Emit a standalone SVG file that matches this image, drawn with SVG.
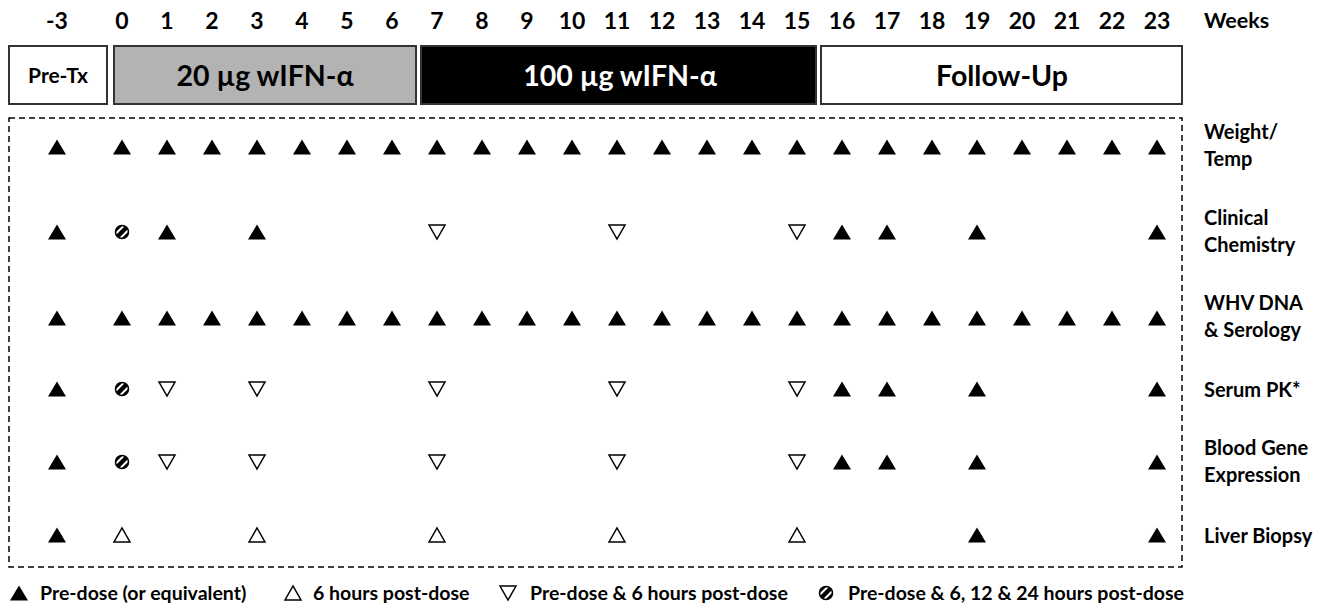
<svg xmlns="http://www.w3.org/2000/svg" xmlns:xlink="http://www.w3.org/1999/xlink" width="1317" height="607" viewBox="0 0 1317 607">
<style>
text{font-family:Lato,"Open Sans","Liberation Sans",sans-serif;font-weight:bold;fill:#000}
.wk{font-size:23px;text-anchor:middle}
.ph{font-size:28.5px;text-anchor:middle}
.lbl{font-size:20px}
.leg{font-size:19.5px}
.box{stroke:#333;stroke-width:2}
</style>
<defs>
<path id="tf" d="M-9,7.5 L9,7.5 L0,-7.5 Z" fill="#000"/>
<path id="tu" d="M-8,7 L8,7 L0,-7 Z" fill="#fff" stroke="#000" stroke-width="1.5"/>
<path id="td" d="M-8,-7 L8,-7 L0,7 Z" fill="#fff" stroke="#000" stroke-width="1.5"/>
<clipPath id="cc"><circle r="6.5"/></clipPath>
<g id="hc">
<circle r="6.5" fill="#000"/>
<g clip-path="url(#cc)" stroke="#fff" stroke-width="2">
<line x1="-9" y1="4.5" x2="4.5" y2="-9"/>
<line x1="-4.5" y1="9" x2="9" y2="-4.5"/>
</g>
<circle r="6.5" fill="none" stroke="#000" stroke-width="1.6"/>
</g>
</defs>
<rect width="1317" height="607" fill="#fff"/>

<g id="weeks">
<text class="wk" x="57" y="29">-3</text>
<text class="wk" x="122" y="29">0</text>
<text class="wk" x="167" y="29">1</text>
<text class="wk" x="212" y="29">2</text>
<text class="wk" x="257" y="29">3</text>
<text class="wk" x="302" y="29">4</text>
<text class="wk" x="347" y="29">5</text>
<text class="wk" x="392" y="29">6</text>
<text class="wk" x="437" y="29">7</text>
<text class="wk" x="482" y="29">8</text>
<text class="wk" x="527" y="29">9</text>
<text class="wk" x="572" y="29">10</text>
<text class="wk" x="617" y="29">11</text>
<text class="wk" x="662" y="29">12</text>
<text class="wk" x="707" y="29">13</text>
<text class="wk" x="752" y="29">14</text>
<text class="wk" x="797" y="29">15</text>
<text class="wk" x="842" y="29">16</text>
<text class="wk" x="887" y="29">17</text>
<text class="wk" x="932" y="29">18</text>
<text class="wk" x="977" y="29">19</text>
<text class="wk" x="1022" y="29">20</text>
<text class="wk" x="1067" y="29">21</text>
<text class="wk" x="1112" y="29">22</text>
<text class="wk" x="1157" y="29">23</text>
<text class="lbl" x="1204" y="28" style="font-size:21.5px">Weeks</text>
</g>

<g id="phase-pretx">
<rect class="box" x="9" y="46" width="98" height="58" fill="#fff"/>
<text class="ph" x="58" y="83" style="font-size:21px">Pre-Tx</text>
</g>
<g id="phase-20">
<rect class="box" x="114" y="46" width="302" height="58" fill="#b3b3b3"/>
<text class="ph" x="265" y="86">20 µg wIFN-α</text>
</g>
<g id="phase-100">
<rect class="box" x="421" y="46" width="395" height="58" fill="#000"/>
<text class="ph" x="620" y="86" style="fill:#fff">100 µg wIFN-α</text>
</g>
<g id="phase-follow">
<rect class="box" x="821" y="46" width="361" height="58" fill="#fff"/>
<text class="ph" x="1002" y="86">Follow-Up</text>
</g>

<g id="frame">
<rect x="9" y="118" width="1173" height="449" fill="none" stroke="#000" stroke-width="1.5" stroke-dasharray="6,4"/>
</g>

<g id="row-weight">
<use xlink:href="#tf" x="57" y="147"/><use xlink:href="#tf" x="122" y="147"/><use xlink:href="#tf" x="167" y="147"/><use xlink:href="#tf" x="212" y="147"/><use xlink:href="#tf" x="257" y="147"/><use xlink:href="#tf" x="302" y="147"/><use xlink:href="#tf" x="347" y="147"/><use xlink:href="#tf" x="392" y="147"/><use xlink:href="#tf" x="437" y="147"/><use xlink:href="#tf" x="482" y="147"/><use xlink:href="#tf" x="527" y="147"/><use xlink:href="#tf" x="572" y="147"/><use xlink:href="#tf" x="617" y="147"/><use xlink:href="#tf" x="662" y="147"/><use xlink:href="#tf" x="707" y="147"/><use xlink:href="#tf" x="752" y="147"/><use xlink:href="#tf" x="797" y="147"/><use xlink:href="#tf" x="842" y="147"/><use xlink:href="#tf" x="887" y="147"/><use xlink:href="#tf" x="932" y="147"/><use xlink:href="#tf" x="977" y="147"/><use xlink:href="#tf" x="1022" y="147"/><use xlink:href="#tf" x="1067" y="147"/><use xlink:href="#tf" x="1112" y="147"/><use xlink:href="#tf" x="1157" y="147"/>
<text class="lbl" x="1204" y="139">Weight/</text>
<text class="lbl" x="1204" y="166">Temp</text>
</g>

<g id="row-clinical">
<use xlink:href="#tf" x="57" y="232"/><use xlink:href="#hc" x="122" y="232"/><use xlink:href="#tf" x="167" y="232"/><use xlink:href="#tf" x="257" y="232"/><use xlink:href="#td" x="437" y="232"/><use xlink:href="#td" x="617" y="232"/><use xlink:href="#td" x="797" y="232"/><use xlink:href="#tf" x="842" y="232"/><use xlink:href="#tf" x="887" y="232"/><use xlink:href="#tf" x="977" y="232"/><use xlink:href="#tf" x="1157" y="232"/>
<text class="lbl" x="1204" y="225">Clinical</text>
<text class="lbl" x="1204" y="252">Chemistry</text>
</g>

<g id="row-whv">
<use xlink:href="#tf" x="57" y="318"/><use xlink:href="#tf" x="122" y="318"/><use xlink:href="#tf" x="167" y="318"/><use xlink:href="#tf" x="212" y="318"/><use xlink:href="#tf" x="257" y="318"/><use xlink:href="#tf" x="302" y="318"/><use xlink:href="#tf" x="347" y="318"/><use xlink:href="#tf" x="392" y="318"/><use xlink:href="#tf" x="437" y="318"/><use xlink:href="#tf" x="482" y="318"/><use xlink:href="#tf" x="527" y="318"/><use xlink:href="#tf" x="572" y="318"/><use xlink:href="#tf" x="617" y="318"/><use xlink:href="#tf" x="662" y="318"/><use xlink:href="#tf" x="707" y="318"/><use xlink:href="#tf" x="752" y="318"/><use xlink:href="#tf" x="797" y="318"/><use xlink:href="#tf" x="842" y="318"/><use xlink:href="#tf" x="887" y="318"/><use xlink:href="#tf" x="932" y="318"/><use xlink:href="#tf" x="977" y="318"/><use xlink:href="#tf" x="1022" y="318"/><use xlink:href="#tf" x="1067" y="318"/><use xlink:href="#tf" x="1112" y="318"/><use xlink:href="#tf" x="1157" y="318"/>
<text class="lbl" x="1204" y="310">WHV DNA</text>
<text class="lbl" x="1204" y="337">&amp; Serology</text>
</g>

<g id="row-pk">
<use xlink:href="#tf" x="57" y="389"/><use xlink:href="#hc" x="122" y="389"/><use xlink:href="#td" x="167" y="389"/><use xlink:href="#td" x="257" y="389"/><use xlink:href="#td" x="437" y="389"/><use xlink:href="#td" x="617" y="389"/><use xlink:href="#td" x="797" y="389"/><use xlink:href="#tf" x="842" y="389"/><use xlink:href="#tf" x="887" y="389"/><use xlink:href="#tf" x="977" y="389"/><use xlink:href="#tf" x="1157" y="389"/>
<text class="lbl" x="1204" y="397">Serum PK*</text>
</g>

<g id="row-blood">
<use xlink:href="#tf" x="57" y="462"/><use xlink:href="#hc" x="122" y="462"/><use xlink:href="#td" x="167" y="462"/><use xlink:href="#td" x="257" y="462"/><use xlink:href="#td" x="437" y="462"/><use xlink:href="#td" x="617" y="462"/><use xlink:href="#td" x="797" y="462"/><use xlink:href="#tf" x="842" y="462"/><use xlink:href="#tf" x="887" y="462"/><use xlink:href="#tf" x="977" y="462"/><use xlink:href="#tf" x="1157" y="462"/>
<text class="lbl" x="1204" y="455">Blood Gene</text>
<text class="lbl" x="1204" y="482">Expression</text>
</g>

<g id="row-liver">
<use xlink:href="#tf" x="57" y="535"/><use xlink:href="#tu" x="122" y="535"/><use xlink:href="#tu" x="257" y="535"/><use xlink:href="#tu" x="437" y="535"/><use xlink:href="#tu" x="617" y="535"/><use xlink:href="#tu" x="797" y="535"/><use xlink:href="#tf" x="977" y="535"/><use xlink:href="#tf" x="1157" y="535"/>
<text class="lbl" x="1204" y="543">Liver Biopsy</text>
</g>

<g id="legend">
<use xlink:href="#tf" x="19" y="593"/>
<text class="leg" x="40" y="600">Pre-dose (or equivalent)</text>
<use xlink:href="#tu" x="293" y="593"/>
<text class="leg" x="313" y="600">6 hours post-dose</text>
<use xlink:href="#td" x="508" y="593"/>
<text class="leg" x="530" y="600">Pre-dose &amp; 6 hours post-dose</text>
<use xlink:href="#hc" x="826" y="593"/>
<text class="leg" x="848" y="600">Pre-dose &amp; 6, 12 &amp; 24 hours post-dose</text>
</g>
</svg>
